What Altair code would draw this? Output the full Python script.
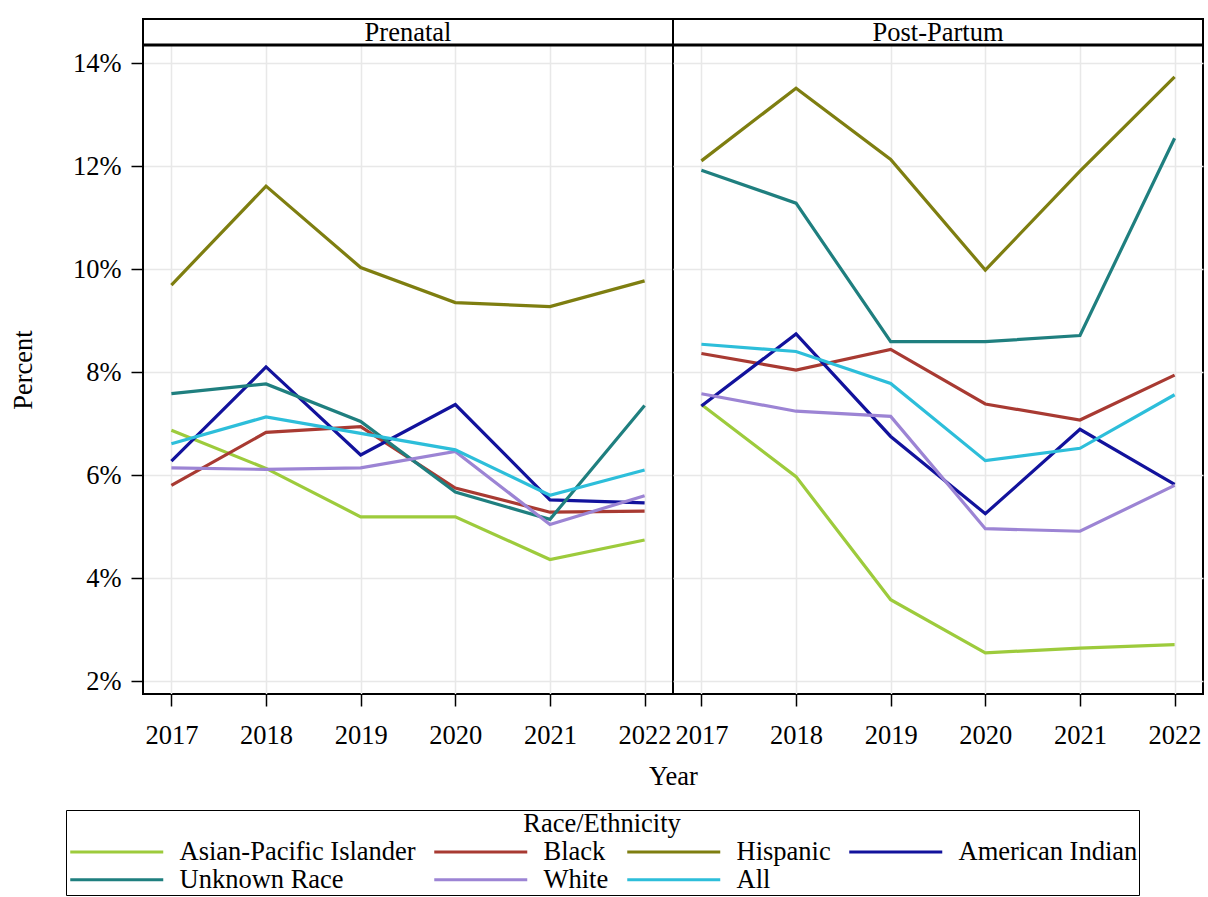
import altair as alt
import pandas as pd

# Years and race/ethnicity groups shown in both panels
years = [2017, 2018, 2019, 2020, 2021, 2022]
groups = ["Asian-Pacific Islander", "Black", "Hispanic", "American Indian",
          "Unknown Race", "White", "All"]
group_colors = ["#9DCB3C", "#A83A32", "#7E7E10", "#12129C",
                "#1F7F7F", "#9C84D4", "#2DBEDA"]
periods = ["Prenatal", "Post-Partum"]

# Percent values per group, one entry per year (2017-2022)
prenatal_asian_pi = [6.87, 6.13, 5.19, 5.19, 4.36, 4.74]
prenatal_black = [5.80, 6.83, 6.94, 5.75, 5.28, 5.30]
prenatal_hispanic = [9.69, 11.61, 10.03, 9.35, 9.27, 9.77]
prenatal_american_indian = [6.27, 8.10, 6.39, 7.37, 5.52, 5.46]
prenatal_unknown = [7.58, 7.77, 7.04, 5.67, 5.14, 7.35]
prenatal_white = [6.14, 6.11, 6.14, 6.46, 5.04, 5.60]
prenatal_all = [6.61, 7.13, 6.81, 6.49, 5.61, 6.10]

postpartum_asian_pi = [7.37, 5.97, 3.58, 2.55, 2.64, 2.71]
postpartum_black = [8.36, 8.04, 8.44, 7.38, 7.07, 7.94]
postpartum_hispanic = [12.10, 13.51, 12.13, 9.98, 11.90, 13.73]
postpartum_american_indian = [7.34, 8.74, 6.75, 5.25, 6.89, 5.82]
postpartum_unknown = [11.92, 11.28, 8.59, 8.59, 8.71, 12.54]
postpartum_white = [7.58, 7.24, 7.14, 4.96, 4.91, 5.80]
postpartum_all = [8.54, 8.40, 7.78, 6.28, 6.52, 7.56]

series = {
    "Prenatal": [prenatal_asian_pi, prenatal_black, prenatal_hispanic,
                 prenatal_american_indian, prenatal_unknown, prenatal_white,
                 prenatal_all],
    "Post-Partum": [postpartum_asian_pi, postpartum_black, postpartum_hispanic,
                    postpartum_american_indian, postpartum_unknown,
                    postpartum_white, postpartum_all],
}

rows = []
for period in periods:
    for group, values in zip(groups, series[period]):
        for year, value in zip(years, values):
            rows.append({"Period": period, "Group": group, "Year": year,
                         "Percent": value})
df = pd.DataFrame(rows)

FONT = "Liberation Serif"
FS = 26.5
W, H = 530, 649
HEADER = 26
y_ticks = [2, 4, 6, 8, 10, 12, 14]

legend = alt.Legend(
    title="Race/Ethnicity", orient="none", legendX=-77, legendY=765,
    direction="horizontal", columns=4, columnPadding=12, rowPadding=1,
    symbolType="M-1,0L8.3,0", symbolSize=400, symbolStrokeWidth=3,
    labelOffset=86, labelLimit=500, labelFont=FONT, labelFontSize=FS,
    labelColor="black",
    titleFont=FONT, titleFontSize=FS, titleFontWeight="normal",
    titleColor="black", titleAnchor="middle", titlePadding=1,
    strokeColor="black", padding=1,
)


def panel(period, first):
    data = df[df["Period"] == period]
    if first:
        y_axis = alt.Axis(values=y_ticks, labelExpr="datum.value + '%'",
                          title="Percent", titleX=-120, titleY=H / 2,
                          titleAngle=-90, titleAlign="center",
                          titleBaseline="middle", tickSize=12,
                          labelPadding=10)
        x_axis = alt.Axis(values=years, format="d", title=None, tickSize=12,
                          labelPadding=16)
    else:
        y_axis = alt.Axis(values=y_ticks, labels=False, ticks=False,
                          domain=False, title=None)
        x_axis = alt.Axis(values=years, format="d", title="Year", tickSize=12,
                          labelPadding=16, titleX=0, titleY=82,
                          titleAlign="center", titleBaseline="middle")

    lines = alt.Chart(data).mark_line(strokeWidth=3.2).encode(
        x=alt.X("Year:Q", scale=alt.Scale(domain=[2016.7, 2022.3], nice=False,
                                          zero=False), axis=x_axis),
        y=alt.Y("Percent:Q", scale=alt.Scale(domain=[1.75, 14.35], nice=False,
                                             zero=False), axis=y_axis),
        color=alt.Color("Group:N", scale=alt.Scale(domain=groups,
                                                   range=group_colors),
                        legend=legend),
        order=alt.Order("Year:Q"),
    )

    label_df = pd.DataFrame({"label": [period]})
    header_box = alt.Chart(label_df).mark_rect(
        fill="white", stroke="black", strokeWidth=2
    ).encode(x=alt.value(0), x2=alt.value(W), y=alt.value(-HEADER),
             y2=alt.value(0))
    header_rule = alt.Chart(label_df).mark_rule(
        color="black", strokeWidth=3
    ).encode(x=alt.value(0), x2=alt.value(W), y=alt.value(0))
    header_text = alt.Chart(label_df).mark_text(
        font=FONT, fontSize=FS, baseline="middle", align="center",
        color="black"
    ).encode(text="label:N", x=alt.value(W / 2), y=alt.value(-HEADER / 2 + 1))

    return alt.layer(lines, header_box, header_rule, header_text).properties(
        width=W, height=H)


chart = alt.hconcat(
    panel("Prenatal", True), panel("Post-Partum", False),
    spacing=0, bounds="flush",
).properties(
    padding={"left": 9, "top": 17, "right": 2, "bottom": 0},
    background="white",
).configure_view(
    stroke="black", strokeWidth=2
).configure_axis(
    labelFont=FONT, labelFontSize=FS, labelColor="black",
    titleFont=FONT, titleFontSize=FS, titleFontWeight="normal",
    titleColor="black", tickColor="black", tickWidth=1.5,
    domainColor="black", gridColor="#e8e8e8", gridWidth=1.5,
)

chart.save("out.html", embed_options={"renderer": "svg", "actions": False})
